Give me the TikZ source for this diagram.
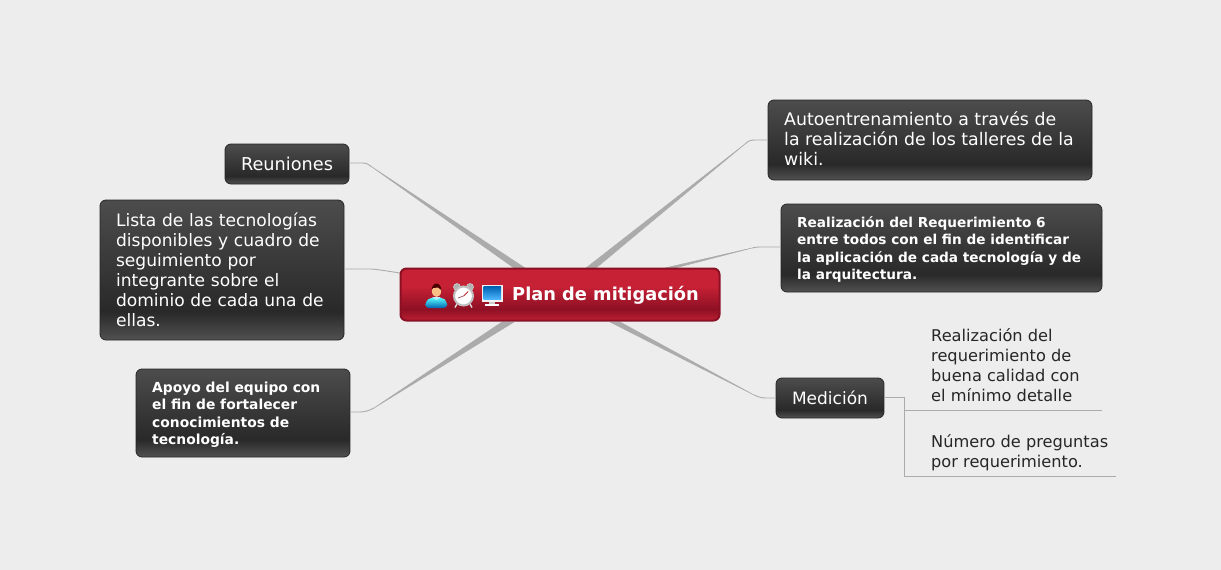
\documentclass[tikz,border=0pt]{standalone}
\usepackage{fontspec}
\setmainfont{DejaVu Sans}
\definecolor{bgc}{HTML}{EDEDED}
\definecolor{linkc}{HTML}{ABABAB}
\definecolor{boxedge}{HTML}{262626}
\definecolor{rededge}{HTML}{8C1024}
\pgfdeclareverticalshading{darkbox}{100bp}{color(0bp)=(black!68);color(25bp)=(black!68);color(35bp)=(black!84);color(75bp)=(black!70);color(100bp)=(black!70)}
\definecolor{r1}{HTML}{C72135}
\definecolor{r2}{HTML}{8E1024}
\definecolor{r3}{HTML}{BC1F33}
\pgfdeclareverticalshading{redbox}{100bp}{color(0bp)=(r3);color(25bp)=(r3);color(36bp)=(r2);color(58bp)=(r1);color(75bp)=(r1);color(100bp)=(r1)}
\tikzset{
  darknode/.style={shading=darkbox,draw=boxedge,line width=0.8pt,rounded corners=6pt,text=white,inner sep=0pt,align=left,font=\fontsize{17.1}{20}\selectfont},
  smallnode/.style={darknode,font=\fontsize{13.85}{17.5}\selectfont\bfseries},
  rootnode/.style={shading=redbox,draw=rededge,line width=2pt,rounded corners=6pt,inner sep=0pt},
  leaftext/.style={text=black!85,inner sep=0pt,align=left,font=\fontsize{16.2}{20}\selectfont},
  plaintext/.style={text=white,inner sep=0pt},
  thinlink/.style={draw=linkc,line width=0.9pt},
  taper/.style={fill=linkc,draw=linkc,line width=0.5pt,line join=round},
}
\begin{document}
\begin{tikzpicture}[x=1pt,y=-1pt]
\useasboundingbox[fill=bgc] (0,0) rectangle (1221,570);
% roots of the tapered branches on the central node
\coordinate (raL) at (514,268); \coordinate (raR) at (525,268);
\coordinate (rbL) at (586,268); \coordinate (rbR) at (596,268);
\coordinate (rcL) at (665,268); \coordinate (rcR) at (675,268);
\coordinate (reL) at (502,322); \coordinate (reR) at (514,322);
\coordinate (rfL) at (610,322); \coordinate (rfR) at (620,322);
\coordinate (rd) at (400,273);
% bends
\coordinate (ba) at (372,167);
\coordinate (bb) at (745,144);
\coordinate (bc) at (752,248);
\coordinate (be) at (374,408);
\coordinate (bf) at (754,395);
\coordinate (ja) at (904,397);
\coordinate (jb) at (904,410);
\coordinate (jc) at (904,476);
\coordinate (la) at (1102,410);
\coordinate (lb) at (1116,476);
% nodes
\node[darknode,minimum width=124pt,minimum height=40pt] (reun) at (287,164) {};
\node[plaintext,font=\fontsize{17.7}{20}\selectfont] (reunt) at (287,164) {Reuniones};
\node[darknode,minimum width=244pt,minimum height=140pt,text width=212pt] (lista) at (222,270) {Lista de las tecnologías\\disponibles y cuadro de\\seguimiento por\\integrante sobre el\\dominio de cada una de\\ellas.};
\node[smallnode,minimum width=214pt,minimum height=88pt] (apoyo) at (243,413) {};
\node[plaintext,anchor=west,align=left,font=\fontsize{13.85}{17.5}\selectfont\bfseries] (apoyot) at (152,414.5) {Apoyo del equipo con\\el fin de fortalecer\\conocimientos de\\tecnología.};
\node[darknode,minimum width=324pt,minimum height=80pt] (auto) at (930,140) {};
\node[plaintext,anchor=west,align=left,font=\fontsize{17.35}{20}\selectfont] (autot) at (784,139) {Autoentrenamiento a través de\\la realización de los talleres de la\\wiki.};
\node[smallnode,minimum width=321pt,minimum height=88pt] (req) at (941.5,248) {};
\node[plaintext,anchor=west,align=left,font=\fontsize{13.65}{17.5}\selectfont\bfseries] (reqt) at (797,249.5) {Realización del Requerimiento 6\\entre todos con el fin de identificar\\la aplicación de cada tecnología y de\\la arquitectura.};
\node[darknode,minimum width=108pt,minimum height=40pt] (med) at (830,398) {};
\node[plaintext,font=\fontsize{17}{20}\selectfont] (medt) at (830,398) {Medición};
\node[leaftext,anchor=north west] (hoja1) at (931,328) {Realización del\\requerimiento de\\buena calidad con\\el mínimo detalle};
\node[leaftext,anchor=north west] (hoja2) at (931,434) {Número de preguntas\\por requerimiento.};
% connectors
\draw[taper] (ba) -- (raR) -- (raL) -- cycle;
\draw[taper] (bb) -- (rbR) -- (rbL) -- cycle;
\draw[taper] (bc) -- (rcR) -- (rcL) -- cycle;
\draw[taper] (be) -- (reR) -- (reL) -- cycle;
\draw[taper] (bf) -- (rfR) -- (rfL) -- cycle;
\draw[thinlink] (reun.east) ++(0,-1) -- ++(13,0) .. controls +(5,0) and +(-4,-2.5) .. (ba);
\draw[thinlink] (auto.west) -- ++(-13,0) .. controls +(-4,0) and +(3,-3) .. (bb);
\draw[thinlink] (req.west) ++(0,-1) -- ++(-21,0) .. controls +(-2,0) and +(3,-0.7) .. (bc);
\draw[thinlink] (lista.east) ++(0,-1) -- ++(26,0) .. controls +(5,0) and +(-10,-1.5) .. (rd);
\draw[thinlink] (apoyo.east) ++(0,-1) -- ++(9,0) .. controls +(5,0) and +(-5,2.8) .. (be);
\draw[thinlink] (med.west) -- ++(-10,0) .. controls +(-4,0) and +(4,1.8) .. (bf);
\draw[thinlink] (med.east) ++(0,-1) -- (ja) -- (jc) -- (lb);
\draw[thinlink] (jb) -- (la);
% root
\node[rootnode,minimum width=319pt,minimum height=52pt] (root) at (560,294.5) {};
\node[plaintext,anchor=west,font=\fontsize{17.8}{20}\selectfont\bfseries] (roott) at (512,295) {Plan de mitigación};
% person icon
\shade[top color=cyan!65!white,bottom color=blue!45!cyan!70!black,rounded corners=4pt] (425,308) -- (425.5,301) -- (431,297.5) -- (442,297.5) -- (447,301) -- (447.5,308) -- cycle;
\fill[white!75!cyan] (432,297) -- (436.5,300) -- (441,297) -- cycle;
\fill[orange!45!white!90!brown] (436.5,291) ellipse (4.6pt and 6pt);
\fill[red!30!black] (431.7,290) arc (180:0:4.8pt and 6.5pt) -- (438,287.5) -- (433,288) -- cycle;
% clock icon
\fill[black!30,draw=white!80!black,line width=0.6pt] (457,287) circle (3.5pt) (470,287) circle (3.5pt);
\draw[black!15,line width=1.4pt] (457,304) -- (455,307.5) (470,304) -- (472,307.5);
\fill[white,draw=black!25,line width=2pt] (463.5,296) circle (9.5pt);
\draw[red!70!black,line width=0.7pt] (463.5,296) -- (468,291.5);
\draw[red!40!black!70,line width=0.7pt] (463.5,296) -- (458,298);
% monitor icon
\fill[black!5] (481.5,284.5) rectangle (503,301.5);
\shade[top color=blue!45!cyan!70!black,bottom color=cyan!60!blue!70!white] (483.5,286.5) rectangle (501,299.5);
\fill[black!20] (489,301.5) rectangle (495,304);
\fill[white] (485,304) rectangle (499,305.5);
\end{tikzpicture}
\end{document}
